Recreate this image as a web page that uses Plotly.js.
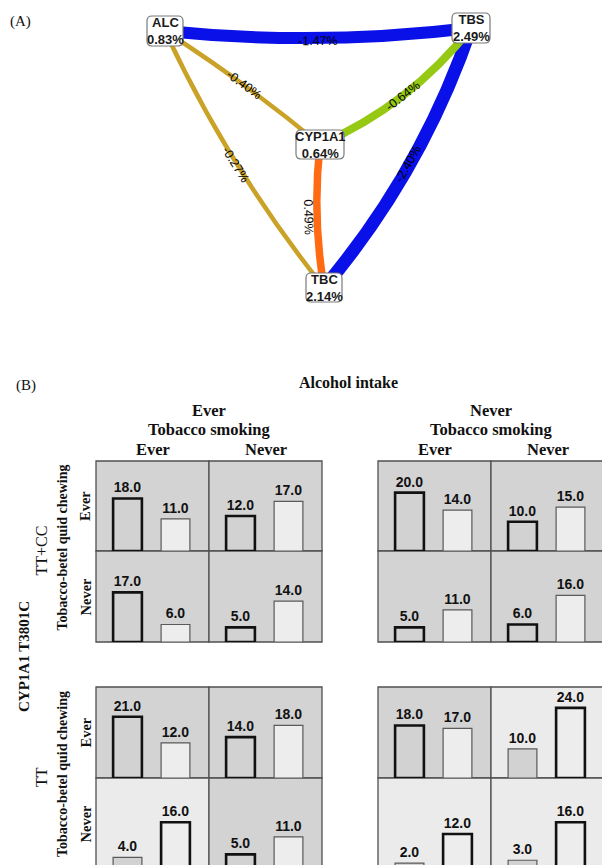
<!DOCTYPE html>
<html><head><meta charset="utf-8">
<script src="https://cdn.plot.ly/plotly-3.0.1.min.js"></script>
<style>html,body{margin:0;padding:0;background:#fff}#chart{width:602px;height:865px}</style>
</head><body><div id="chart"></div>
<script>
// ===== Panel A data (interaction entropy network) =====
const nodeNames   = ['ALC', 'TBS', 'CYP1A1', 'TBC'];
const nodeEntropy = [0.83, 2.49, 0.64, 2.14];
const edgeFrom    = [0, 1, 0, 0, 1, 2];
const edgeTo      = [1, 3, 2, 3, 2, 3];
const edgeValue   = [-1.47, -2.40, -0.40, -0.27, -0.64, 0.49];

// ===== Panel B data =====
const alcoholLevels  = ['Ever', 'Never'];
const smokingLevels  = ['Ever', 'Never'];
const genotypeLevels = ['TT+CC', 'TT'];
const chewingLevels  = ['Ever', 'Never'];
// columns: (alcohol Ever, smoking Ever), (alcohol Ever, smoking Never), (alcohol Never, smoking Ever), (alcohol Never, smoking Never)
const ttccChewEverFirst   = [18.0, 12.0, 20.0, 10.0];
const ttccChewEverSecond  = [11.0, 17.0, 14.0, 15.0];
const ttccChewNeverFirst  = [17.0, 5.0, 5.0, 6.0];
const ttccChewNeverSecond = [6.0, 14.0, 11.0, 16.0];
const ttChewEverFirst     = [21.0, 14.0, 18.0, 10.0];
const ttChewEverSecond    = [12.0, 18.0, 17.0, 24.0];
const ttChewNeverFirst    = [4.0, 5.0, 2.0, 3.0];
const ttChewNeverSecond   = [16.0, 11.0, 12.0, 16.0];

// ===== styles / layout =====
const W = 602, H = 865;
const SERIF = "'Liberation Serif', 'Times New Roman', serif";
const SANS = "'Liberation Sans', Arial, sans-serif";
const NARROW = "'Liberation Sans Narrow', 'Liberation Sans', Arial, sans-serif";

const nodeX = [165, 471, 320, 324];
const nodeY = [31, 28, 144.5, 287.5];
const nodeW = [36, 38, 48, 36];
const nodeH = [30, 30, 29, 29];
const edgeColor = ['#0a10e8', '#0a10e8', '#c9a227', '#c9a227', '#95c914', '#ff6a13'];
const edgeWidth = [12, 13, 4.5, 4.5, 8, 7.5];
const edgeBend  = [8.5, -14, -3, 9, -12, 5];
const edgeLabelOff = [11.5, -12, -3, 10, -12, 14];

const cellDark = [[1,1,1,1],[1,1,1,1],[1,1,1,0],[0,1,0,0]];
const colPx = [[96,209],[209,322],[378,491],[491,604]];
const rowPx = [[461,551],[551,642],[687,778],[778,869]];
const PXY = 2.92, PXX = 48, FIRST = 31.5, BARW = 0.6;
const DARK_BG = '#d3d3d3', LIGHT_BG = '#ebebeb';
const FILL1 = '#d2d2d2', FILL2 = '#ededed';
const THICK = {c:'#111111', w:2.6}, THIN = {c:'#5a5a5a', w:1.2};

const layout = {
  width: W, height: H, margin: {l:0, r:0, t:0, b:0},
  paper_bgcolor: '#ffffff', plot_bgcolor: 'rgba(0,0,0,0)',
  showlegend: false, shapes: [], annotations: []
};
const traces = [];
const ax = (p) => p / W, ay = (p) => 1 - p / H;

function ann(text, xp, yp, size, opts) {
  layout.annotations.push(Object.assign({
    text: text, x: ax(xp), y: ay(yp), xref: 'paper', yref: 'paper',
    xanchor: 'center', yanchor: 'middle', showarrow: false,
    font: {family: SERIF, size: size, color: '#111'}
  }, opts || {}));
}

// ----- Panel A -----
layout.xaxis5 = {domain: [0, 1], range: [0, W], visible: false, fixedrange: true, anchor: 'y5'};
layout.yaxis5 = {domain: [1 - 340 / H, 1], range: [340, 0], visible: false, fixedrange: true, anchor: 'x5'};
traces.push({type: 'scatter', x: nodeX, y: nodeY, xaxis: 'x5', yaxis: 'y5', mode: 'markers',
  marker: {opacity: 0}, hoverinfo: 'skip'});

edgeValue.forEach((v, i) => {
  const a = edgeFrom[i], b = edgeTo[i];
  const x0 = nodeX[a], y0 = nodeY[a], x1 = nodeX[b], y1 = nodeY[b];
  const dx = x1 - x0, dy = y1 - y0, L = Math.hypot(dx, dy);
  const nx = -dy / L, ny = dx / L;
  const mx = (x0 + x1) / 2, my = (y0 + y1) / 2;
  const cx = mx + nx * 2 * edgeBend[i], cy = my + ny * 2 * edgeBend[i];
  layout.shapes.push({type: 'path', xref: 'x5', yref: 'y5', layer: 'above',
    path: `M ${x0},${y0} Q ${cx},${cy} ${x1},${y1}`,
    line: {color: edgeColor[i], width: edgeWidth[i]}});
  let ang = Math.atan2(dy, dx) * 180 / Math.PI;
  if (ang > 90) ang -= 180;
  if (ang < -90) ang += 180;
  layout.annotations.push({text: v.toFixed(2) + '%', xref: 'x5', yref: 'y5',
    x: mx + nx * edgeLabelOff[i], y: my + ny * edgeLabelOff[i],
    textangle: ang, showarrow: false, xanchor: 'center', yanchor: 'middle',
    font: {family: SANS, size: 12.5, color: '#000000'}});
});

nodeNames.forEach((nm, i) => {
  const r = 5;
  const x0 = nodeX[i] - nodeW[i] / 2, x1 = nodeX[i] + nodeW[i] / 2;
  const y0 = nodeY[i] - nodeH[i] / 2, y1 = nodeY[i] + nodeH[i] / 2;
  const p = `M ${x0 + r},${y0} L ${x1 - r},${y0} Q ${x1},${y0} ${x1},${y0 + r} L ${x1},${y1 - r} Q ${x1},${y1} ${x1 - r},${y1} L ${x0 + r},${y1} Q ${x0},${y1} ${x0},${y1 - r} L ${x0},${y0 + r} Q ${x0},${y0} ${x0 + r},${y0} Z`;
  layout.shapes.push({type: 'path', xref: 'x5', yref: 'y5', layer: 'above', path: p,
    fillcolor: '#ffffff', line: {color: '#7a7a7a', width: 1.2}});
  layout.annotations.push({text: `<b>${nm}</b><br><b>${nodeEntropy[i].toFixed(2)}%</b>`,
    xref: 'x5', yref: 'y5', x: nodeX[i], y: nodeY[i], showarrow: false,
    xanchor: 'center', yanchor: 'middle',
    font: {family: NARROW, size: 13, color: '#1a1a1a'}});
});

ann('(A)', 20, 22, 15);

// ----- Panel B -----
colPx.forEach((cp, c) => {
  const id = c === 0 ? '' : String(c + 1);
  const vl = Math.max(0, cp[0]), vr = Math.min(W, cp[1]);
  layout['xaxis' + id] = {domain: [vl / W, vr / W],
    range: [(vl - cp[0] - FIRST) / PXX, (vr - cp[0] - FIRST) / PXX],
    visible: false, fixedrange: true, anchor: 'y'};
});
rowPx.forEach((rp, r) => {
  const id = r === 0 ? '' : String(r + 1);
  const vt = Math.max(0, rp[0]), vb = Math.min(H, rp[1]);
  layout['yaxis' + id] = {domain: [1 - vb / H, 1 - vt / H],
    range: [(rp[1] - vb) / PXY, (rp[1] - vt) / PXY],
    visible: false, fixedrange: true, anchor: 'x'};
});

const rowsFirst  = [ttccChewEverFirst, ttccChewNeverFirst, ttChewEverFirst, ttChewNeverFirst];
const rowsSecond = [ttccChewEverSecond, ttccChewNeverSecond, ttChewEverSecond, ttChewNeverSecond];

rowPx.forEach((rp, r) => {
  colPx.forEach((cp, c) => {
    const dark = cellDark[r][c] === 1;
    layout.shapes.push({type: 'rect', xref: 'paper', yref: 'paper', layer: 'below',
      x0: ax(cp[0]), x1: ax(cp[1]), y0: ay(rp[1]), y1: ay(rp[0]),
      fillcolor: dark ? DARK_BG : LIGHT_BG, line: {color: '#505050', width: 1.3}});
    const vals = [rowsFirst[r][c], rowsSecond[r][c]];
    const l1 = dark ? THICK : THIN, l2 = dark ? THIN : THICK;
    traces.push({type: 'bar', x: [0, 1], y: vals,
      xaxis: 'x' + (c === 0 ? '' : c + 1), yaxis: 'y' + (r === 0 ? '' : r + 1),
      width: BARW,
      marker: {color: [FILL1, FILL2], line: {color: [l1.c, l2.c], width: [l1.w, l2.w]}},
      text: vals.map(v => v.toFixed(1)), textposition: 'outside', constraintext: 'none',
      textfont: {family: SANS, size: 14, color: '#111', weight: 'bold'},
      hoverinfo: 'skip'});
  });
});

// headers
ann('(B)', 26, 385, 15);
ann('<b>Alcohol intake</b>', 348, 382, 16);
const blockCenters = [(colPx[0][0] + colPx[1][1]) / 2, (colPx[2][0] + colPx[3][1]) / 2];
alcoholLevels.forEach((lv, i) => {
  ann('<b>' + lv + '</b>', blockCenters[i], 410, 16.5);
  ann('<b>Tobacco smoking</b>', blockCenters[i], 429, 16.5);
});
colPx.forEach((cp, c) => {
  ann('<b>' + smokingLevels[c % 2] + '</b>', (cp[0] + cp[1]) / 2, 449.5, 16.5);
});
// row labels
ann('<b>CYP1A1 T3801C</b>', 24, 657, 15, {textangle: -90});
genotypeLevels.forEach((g, gi) => {
  const top = rowPx[gi * 2][0], bot = Math.min(rowPx[gi * 2 + 1][1], H + 4);
  const mid = (top + bot) / 2;
  ann(g, 41, mid - 1, 16, {textangle: -90});
  ann('<b>Tobacco-betel quid chewing</b>', 62, mid - 4, 14, {textangle: -90});
  chewingLevels.forEach((cl, ci) => {
    const rp = rowPx[gi * 2 + ci];
    ann('<b>' + cl + '</b>', 85, (rp[0] + rp[1]) / 2, 14.5, {textangle: -90});
  });
});

Plotly.newPlot('chart', traces, layout, {staticPlot: true, displayModeBar: false});
</script>
</body></html>
